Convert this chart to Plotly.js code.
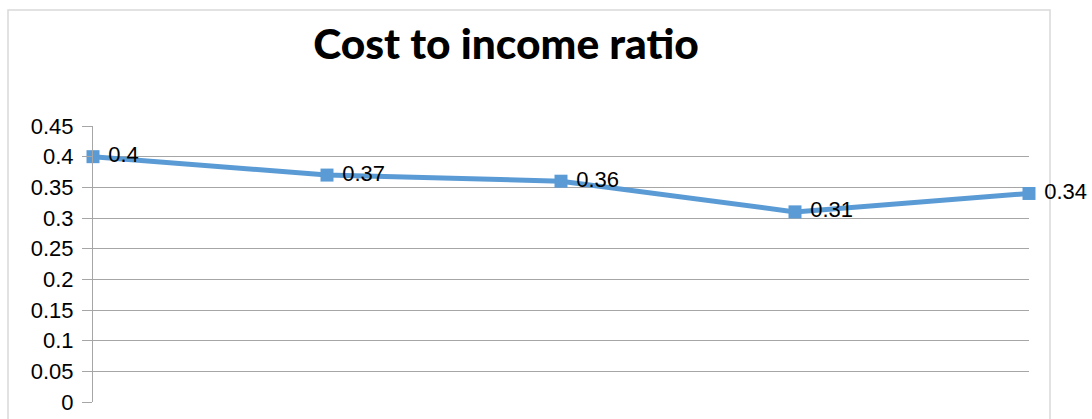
<!DOCTYPE html>
<html>
<head>
<meta charset="utf-8">
<script src="https://cdn.plot.ly/plotly-3.0.1.min.js"></script>
<style>
html,body{margin:0;padding:0;background:#fff;}
#chart{width:1092px;height:419px;}
</style>
</head>
<body>
<div id="chart"></div>
<script>
var categories = ["1", "2", "3", "4", "5"];
var ratioValues = [0.4, 0.37, 0.36, 0.31, 0.34];
var yTickVals = [0, 0.05, 0.1, 0.15, 0.2, 0.25, 0.3, 0.35, 0.4, 0.45];
var yTickText = ["0", "0.05", "0.1", "0.15", "0.2", "0.25", "0.3", "0.35", "0.4", "0.45"];
var chartTitle = "Cost to income ratio";

var trace = {
  x: categories,
  y: ratioValues,
  type: "scatter",
  mode: "lines+markers+text",
  text: ratioValues.map(function (v) { return " " + v; }),
  textposition: "middle right",
  textfont: {family: "Liberation Sans, Arial, sans-serif", size: 22, color: "#000"},
  line: {color: "#5b9bd5", width: 5},
  marker: {symbol: "square", size: 13, color: "#5b9bd5"},
  cliponaxis: false,
  hoverinfo: "none"
};

var layout = {
  width: 1092,
  height: 419,
  margin: {l: 93, r: 63, t: 126, b: 17, pad: 0},
  paper_bgcolor: "#fff",
  plot_bgcolor: "#fff",
  showlegend: false,
  title: {
    text: chartTitle,
    font: {family: "Lato, sans-serif", size: 42.5, weight: 900, color: "#000"},
    x: 506 / 1092, xref: "container", xanchor: "center",
    y: 1 - 44 / 419, yref: "container", yanchor: "middle"
  },
  xaxis: {
    type: "category",
    range: [0, 4],
    showticklabels: false,
    showgrid: false,
    zeroline: false,
    showline: false,
    ticks: ""
  },
  yaxis: {
    range: [0, 0.45],
    tickvals: yTickVals,
    ticktext: yTickText,
    tickfont: {family: "Liberation Sans, Arial, sans-serif", size: 22, color: "#000"},
    ticklabelstandoff: 4,
    showgrid: true,
    gridcolor: "#a6a6a6",
    gridwidth: 1,
    zeroline: false,
    showline: true,
    linecolor: "#a6a6a6",
    linewidth: 1,
    ticks: "outside",
    ticklen: 10,
    tickcolor: "#a6a6a6",
    tickwidth: 1
  },
  shapes: [{
    type: "rect",
    xref: "paper", yref: "paper",
    x0: (8 - 93) / 936, x1: (1050 - 93) / 936,
    y0: -0.3, y1: (402 - 10) / 276,
    line: {color: "#d9d9d9", width: 1.5},
    fillcolor: "rgba(0,0,0,0)",
    layer: "below"
  }]
};

Plotly.newPlot("chart", [trace], layout, {displayModeBar: false, staticPlot: true});
</script>
</body>
</html>
